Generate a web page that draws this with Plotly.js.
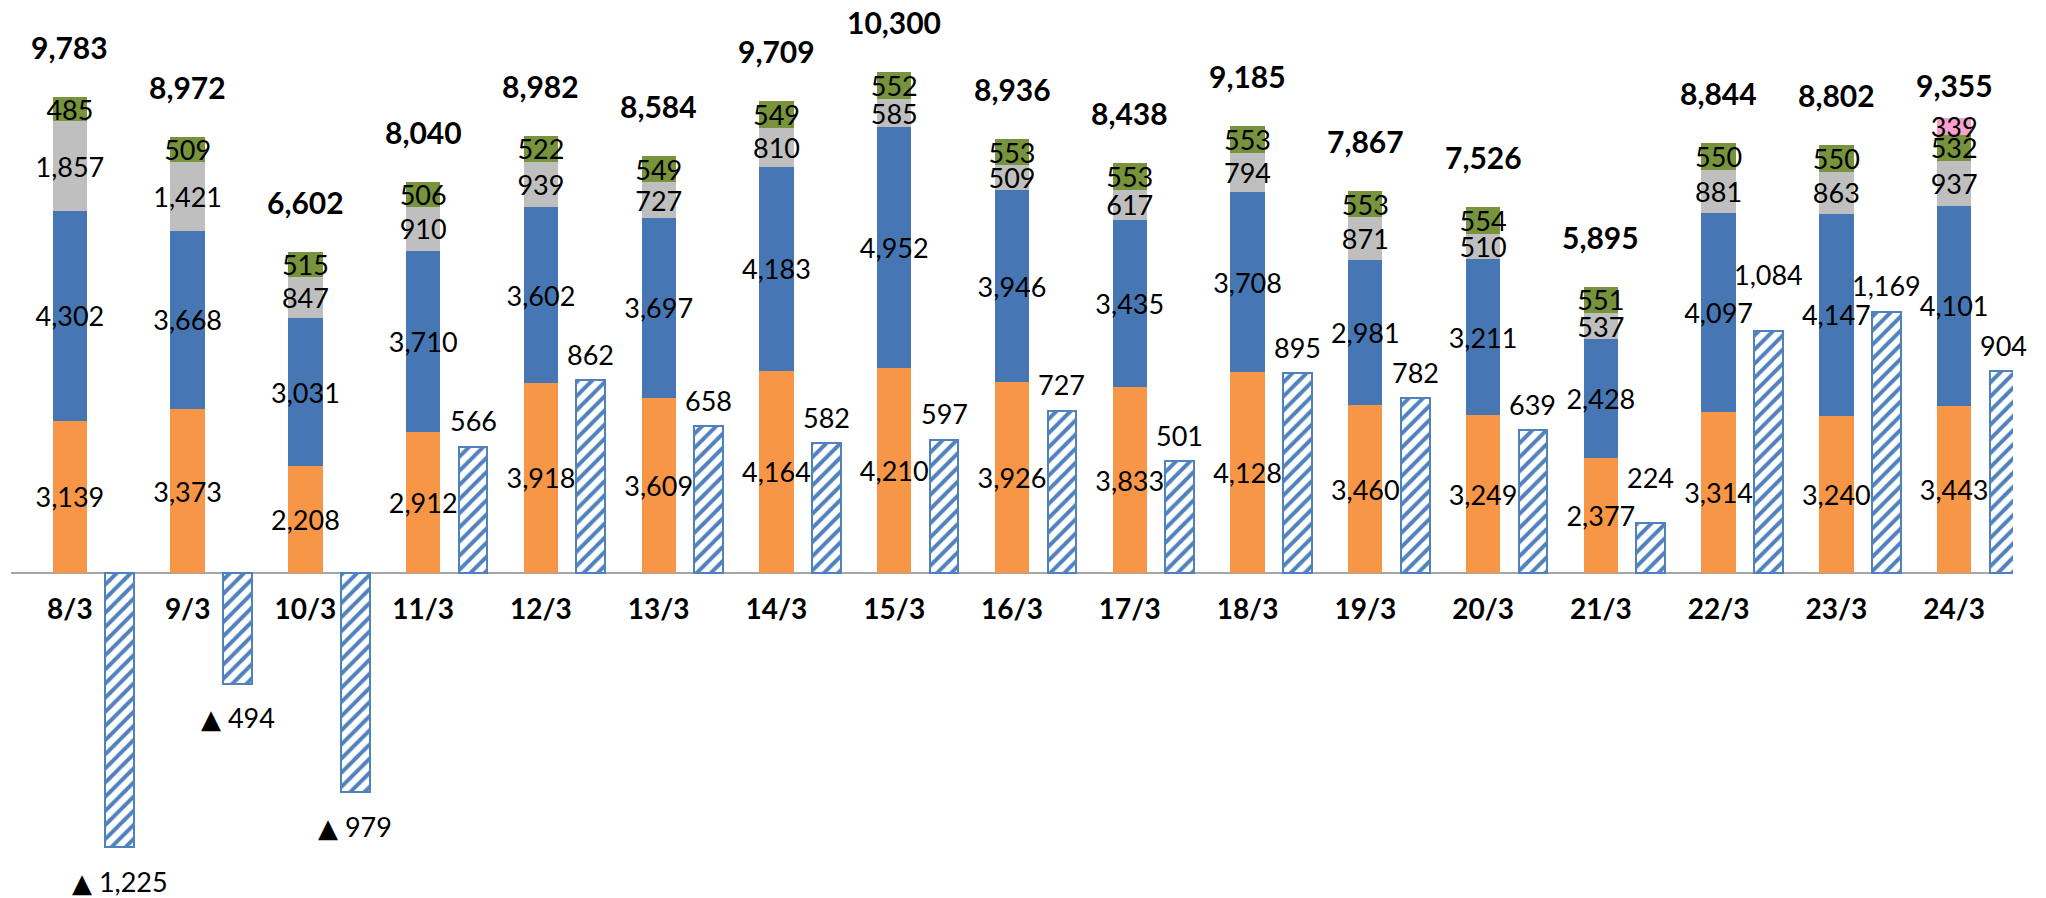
<!DOCTYPE html>
<html>
<head>
<meta charset="utf-8">
<script src="https://cdn.plot.ly/plotly-3.0.1.min.js"></script>
<style>
  html, body { margin: 0; padding: 0; background: #ffffff; }
  #chart { width: 2046px; height: 898px; }
</style>
</head>
<body>
<div id="chart"></div>
<script>
// ---- Data ----
const dates = ['8/3','9/3','10/3','11/3','12/3','13/3','14/3','15/3','16/3','17/3','18/3','19/3','20/3','21/3','22/3','23/3','24/3'];
const series1 = [3139, 3373, 2208, 2912, 3918, 3609, 4164, 4210, 3926, 3833, 4128, 3460, 3249, 2377, 3314, 3240, 3443]; // orange
const series2 = [4302, 3668, 3031, 3710, 3602, 3697, 4183, 4952, 3946, 3435, 3708, 2981, 3211, 2428, 4097, 4147, 4101]; // blue
const series3 = [1857, 1421, 847, 910, 939, 727, 810, 585, 509, 617, 794, 871, 510, 537, 881, 863, 937];                  // grey
const series4 = [485, 509, 515, 506, 522, 549, 549, 552, 553, 553, 553, 553, 554, 551, 550, 550, 532];                     // green
const series5 = [null, null, null, null, null, null, null, null, null, null, null, null, null, null, null, null, 339];     // pink
const totals  = [9783, 8972, 6602, 8040, 8982, 8584, 9709, 10300, 8936, 8438, 9185, 7867, 7526, 5895, 8844, 8802, 9355];
const diffs   = [-1225, -494, -979, 566, 862, 658, 582, 597, 727, 501, 895, 782, 639, 224, 1084, 1169, 904];

// ---- Style / layout constants ----
const FONT = 'Lato, "Open Sans", sans-serif';
const stackColors = ['#f79646', '#4677b4', '#bfbfbf', '#77933c', '#f9a0cc'];
const hatchColor = '#4f81bd';
const W = 2046, H = 898;
const marginL = 11, marginR = 33, marginT = 0, marginB = 0;
const plotH = H - marginT - marginB;
const zeroPx = 573.3;          // zero line, px from top of plot area
const unitsPerPx1 = 20.55;     // primary axis scale
const unitsPerPx2 = 4.47;      // secondary axis scale
const y1Range = [-(plotH - zeroPx) * unitsPerPx1, zeroPx * unitsPerPx1];
const y2Range = [-(plotH - zeroPx) * unitsPerPx2, zeroPx * unitsPerPx2];
const stackWidth = 0.292;
const hatchWidth = 0.244;
const hatchOffset = 0.3015;
const hatchCenter = hatchOffset + hatchWidth / 2;
const posShift = 26, negShift = -34, minGap = 38;

const fmt = n => Math.abs(n).toLocaleString('en-US');

const stackSeries = [series1, series2, series3, series4, series5];
const traces = stackSeries.map((vals, k) => ({
  type: 'bar',
  x: dates,
  y: vals,
  xaxis: 'x',
  yaxis: 'y',
  width: stackWidth,
  marker: { color: stackColors[k], line: { width: 0 } },
  texttemplate: '%{y:,}',
  textposition: 'inside',
  insidetextanchor: 'middle',
  textangle: 0,
  constraintext: 'none',
  textfont: { family: FONT, size: 27, color: '#000000' },
  hoverinfo: 'skip',
  showlegend: false
}));

traces.push({
  type: 'bar',
  x: dates,
  y: diffs,
  xaxis: 'x',
  yaxis: 'y2',
  width: hatchWidth,
  offset: hatchOffset,
  marker: {
    color: '#ffffff',
    line: { color: hatchColor, width: 2 },
    pattern: { shape: '/', fgcolor: hatchColor, bgcolor: '#ffffff', size: 10, solidity: 0.4, fillmode: 'replace' }
  },
  hoverinfo: 'skip',
  showlegend: false
});

// pixel helpers (to keep the difference labels clear of the stacked labels)
const px1 = v => zeroPx - v / unitsPerPx1;
const px2 = v => zeroPx - v / unitsPerPx2;

const annotations = [];
dates.forEach((d, i) => {
  const base = series1[i] + series2[i] + series3[i] + series4[i];
  annotations.push({
    x: i, y: base, xref: 'x', yref: 'y',
    text: '<b>' + fmt(totals[i]) + '</b>',
    showarrow: false, yanchor: 'middle', yshift: 50,
    font: { family: FONT, size: 30, color: '#000000' }
  });
  const neg = diffs[i] < 0;
  let shift = neg ? negShift : posShift;
  if (!neg) {
    // centres of the stacked segment labels of this date
    const centres = [];
    let cum = 0;
    [series1[i], series2[i], series3[i], series4[i]].forEach(v => { centres.push(px1(cum + v / 2)); cum += v; });
    const labelPx = px2(diffs[i]) - shift;
    centres.forEach(c => {
      if (Math.abs(labelPx - c) < minGap - 10) {
        const target = c - minGap;
        shift = px2(diffs[i]) - target;
      }
    });
  }
  annotations.push({
    x: i + hatchCenter, y: diffs[i], xref: 'x', yref: 'y2',
    text: neg ? '<span style="font-family:\'DejaVu Sans\';font-size:26px">\u25B2</span> ' + fmt(diffs[i]) : fmt(diffs[i]),
    showarrow: false, yanchor: 'middle', yshift: shift,
    font: { family: FONT, size: 27, color: '#000000' }
  });
});

const layout = {
  width: W,
  height: H,
  margin: { l: marginL, r: marginR, t: marginT, b: marginB, pad: 0 },
  paper_bgcolor: '#ffffff',
  plot_bgcolor: '#ffffff',
  barmode: 'stack',
  showlegend: false,
  xaxis: {
    type: 'category',
    range: [-0.5, dates.length - 0.5],
    anchor: 'free',
    position: (plotH - zeroPx) / plotH,
    showgrid: false,
    zeroline: false,
    showline: false,
    ticks: '',
    ticklabelstandoff: 17,
    tickfont: { family: FONT, size: 28, color: '#000000', weight: 700 },
    fixedrange: true
  },
  yaxis: {
    range: y1Range,
    showgrid: false,
    zeroline: true,
    zerolinecolor: '#a6a6a6',
    zerolinewidth: 2,
    showticklabels: false,
    ticks: '',
    showline: false,
    fixedrange: true
  },
  yaxis2: {
    range: y2Range,
    overlaying: 'y',
    side: 'right',
    showgrid: false,
    zeroline: false,
    showticklabels: false,
    ticks: '',
    showline: false,
    fixedrange: true
  },
  annotations: annotations
};

Plotly.newPlot('chart', traces, layout, { displayModeBar: false, staticPlot: true });
</script>
</body>
</html>
